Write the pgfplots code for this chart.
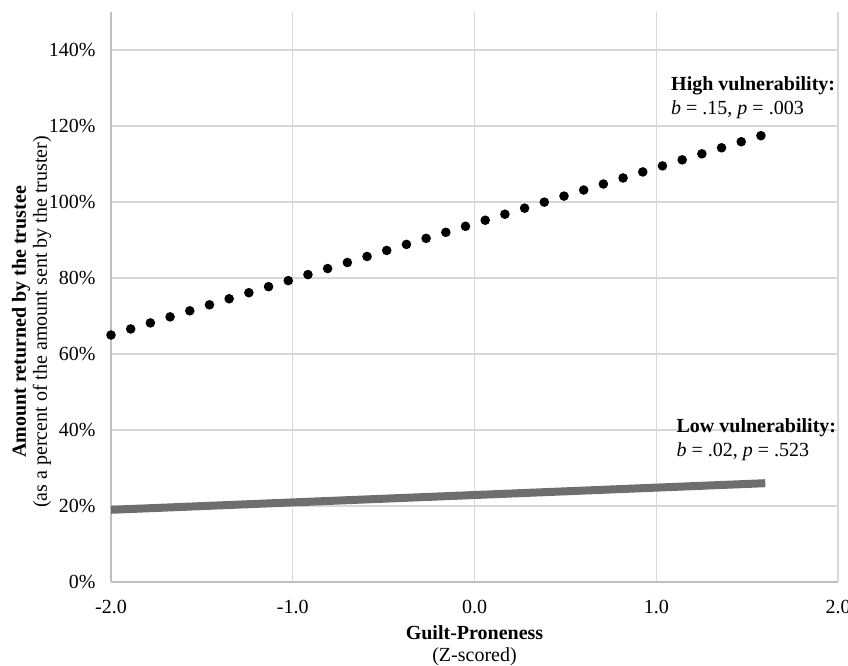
\documentclass[border=0pt]{standalone}
\usepackage{pgfplots}
\pgfplotsset{compat=1.18}
\usepackage{fontspec}
\setmainfont{Liberation Serif}
\definecolor{gridgray}{HTML}{D9D9D9}
\definecolor{axisgray}{HTML}{BFBFBF}
\definecolor{lowgray}{HTML}{6E6E6E}
\begin{document}
\begin{tikzpicture}
\begin{axis}[
  scale only axis, width=363.5pt, height=285pt,
  xmin=-2, xmax=2, ymin=0, ymax=150,
  xtick={-2,-1,0,1,2}, ytick={0,20,...,140},
  axis x line=bottom, axis y line=left,
  axis line style={draw=axisgray, line width=0.7pt, -},
  major tick length=0pt,
  grid=major, grid style={draw=gridgray, line width=0.6pt},
  /pgf/number format/assume math mode=true,
  xticklabel style={/pgf/number format/.cd, fixed, fixed zerofill, precision=1, /tikz/.cd, anchor=center, yshift=-12.5pt, inner sep=0pt, font=\fontsize{10}{12}\selectfont},
  yticklabel={\pgfmathprintnumber{\tick}\%},
  yticklabel style={anchor=east, xshift=-7.5pt, inner sep=0pt, font=\fontsize{10}{12}\selectfont},
  xlabel={\textbf{Guilt-Proneness}\\(Z-scored)},
  xlabel style={at={(axis description cs:0.5,0)}, anchor=center, yshift=-32pt, align=center, font=\fontsize{10}{11}\selectfont},
  ylabel={\textbf{Amount returned by the trustee}\\(as a percent of the amount sent by the truster)},
  ylabel style={at={(axis description cs:0,0.5)}, anchor=center, yshift=39.75pt, xshift=-12.5pt, align=center, font=\fontsize{10}{10.5}\selectfont},
  clip=false,
]
\addplot[black, line width=4.8pt, line cap=round, dash pattern=on 0pt off 10.3pt] coordinates {(-2,65) (1.6,117.8)};
\addplot[color=lowgray, line width=4pt] coordinates {(-2,19) (1.6,26)};
\node[anchor=west, align=left, inner sep=0pt, font=\fontsize{10}{12}\selectfont] at (axis cs:1.08,127.4) {\textbf{High vulnerability:}\\\textit{b} = .15, \textit{p} = .003};
\node[anchor=west, align=left, inner sep=0pt, font=\fontsize{10}{12}\selectfont] at (axis cs:1.11,37.4) {\textbf{Low vulnerability:}\\\textit{b} = .02, \textit{p} = .523};
\end{axis}
\pgfresetboundingbox
\path[use as bounding box] ([shift={(-55.5pt,-42pt)}]current axis.south west) rectangle ([shift={(5pt,6pt)}]current axis.north east);
\end{tikzpicture}
\end{document}
